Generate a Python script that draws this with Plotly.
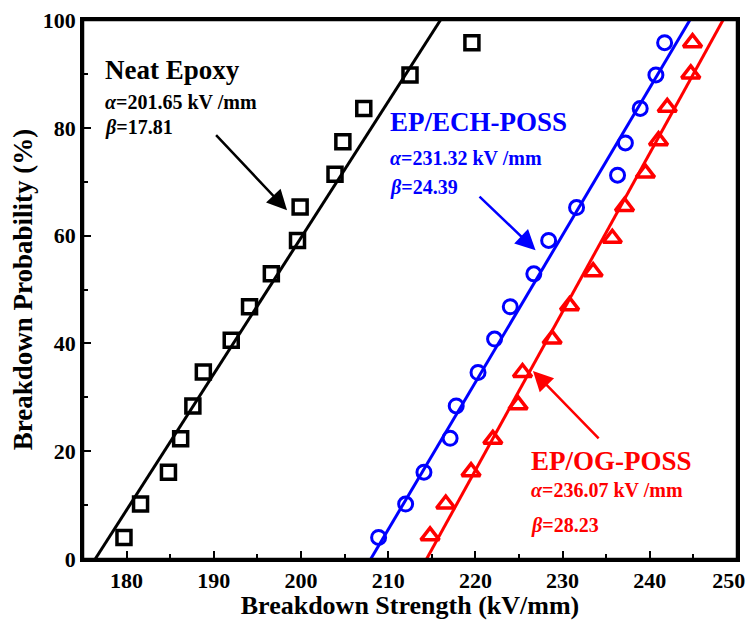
import plotly.graph_objects as go

# Data
neat_x = [179.7, 181.6, 184.8, 186.2, 187.6, 188.8, 192.0, 194.1, 196.6, 199.6, 199.9, 203.9, 204.8, 207.2, 212.5, 219.6]
neat_y = [4.0, 10.2, 16.1, 22.3, 28.4, 34.7, 40.6, 46.8, 52.9, 59.1, 65.3, 71.4, 77.4, 83.6, 89.8, 95.8]

ech_x = [208.9, 212.0, 214.1, 217.1, 217.8, 220.3, 222.2, 224.0, 226.7, 228.4, 231.6, 236.3, 237.2, 238.9, 240.7, 241.7]
ech_y = [4.0, 10.2, 16.1, 22.4, 28.4, 34.6, 40.8, 46.8, 52.9, 59.1, 65.2, 71.2, 77.2, 83.6, 89.8, 95.8]

og_x = [214.8, 216.6, 219.5, 222.0, 224.9, 225.4, 228.8, 230.8, 233.5, 235.7, 237.1, 239.5, 241.0, 242.0, 244.7, 244.9]
og_y = [4.3, 10.2, 16.2, 22.2, 28.6, 34.6, 40.8, 47.0, 53.3, 59.5, 65.4, 71.6, 77.6, 83.8, 90.0, 95.8]

# Fitted line end points
neat_fit_x = [176.4, 216.0]
ech_fit_x = [208.0, 244.6]
og_fit_x = [214.4, 248.4]
fit_y = [0, 100]

x_ticks = [180, 190, 200, 210, 220, 230, 240, 250]
y_ticks = [0, 20, 40, 60, 80, 100]

FONT = "Liberation Serif"
BLACK, BLUE, RED = "#000000", "#0000FF", "#FF0000"

fig = go.Figure()
for fx, col in [(neat_fit_x, BLACK), (ech_fit_x, BLUE), (og_fit_x, RED)]:
    fig.add_trace(go.Scatter(x=fx, y=fit_y, mode="lines",
                             line=dict(color=col, width=3), showlegend=False, hoverinfo="skip"))

fig.add_trace(go.Scatter(x=neat_x, y=neat_y, mode="markers", showlegend=False,
                         marker=dict(symbol="square-open", size=14, color=BLACK, line=dict(width=3.5, color=BLACK))))
fig.add_trace(go.Scatter(x=ech_x, y=ech_y, mode="markers", showlegend=False,
                         marker=dict(symbol="circle-open", size=14, color=BLUE, line=dict(width=3, color=BLUE))))
fig.add_trace(go.Scatter(x=og_x, y=og_y, mode="markers", showlegend=False,
                         marker=dict(symbol="triangle-up-open", size=16, color=RED, line=dict(width=3.5, color=RED))))

def txt(x, y, s, col, size):
    fig.add_annotation(x=x, y=y, xref="x", yref="y", text=s, showarrow=False,
                       xanchor="left", yanchor="middle",
                       font=dict(family=FONT, size=size, color=col))

txt(177.3, 90.7, "<b>Neat Epoxy</b>", BLACK, 27)
txt(177.3, 84.8, "<b><i>α</i>=201.65 kV /mm</b>", BLACK, 20)
txt(177.3, 80.0, "<b><i>β</i>=17.81</b>", BLACK, 20)

txt(210.0, 81.1, "<b>EP/ECH-POSS</b>", BLUE, 27)
txt(210.0, 74.4, "<b><i>α</i>=231.32 kV /mm</b>", BLUE, 20)
txt(210.0, 69.0, "<b><i>β</i>=24.39</b>", BLUE, 20)

txt(226.1, 18.2, "<b>EP/OG-POSS</b>", RED, 27)
txt(226.1, 12.8, "<b><i>α</i>=236.07 kV /mm</b>", RED, 20)
txt(226.1, 6.3, "<b><i>β</i>=28.23</b>", RED, 20)

def arrow(x0, y0, x1, y1, col):
    fig.add_annotation(x=x1, y=y1, ax=x0, ay=y0, xref="x", yref="y", axref="x", ayref="y",
                       text="", showarrow=True, arrowhead=2, arrowsize=1.6, arrowwidth=2.5,
                       arrowcolor=col)

arrow(190.1, 78.9, 198.4, 64.7, BLACK)
arrow(220.3, 67.5, 226.9, 57.3, BLUE)
arrow(234.3, 22.1, 226.6, 34.9, RED)

# frame around the plotting area
fig.add_shape(type="rect", xref="paper", yref="paper", x0=0, y0=0, x1=1, y1=1,
              line=dict(color="black", width=2.5), layer="above")

axis_common = dict(showgrid=False, zeroline=False, showline=True, linecolor="black", linewidth=2.5,
                   mirror=True, ticks="inside", ticklen=8, tickwidth=2, tickcolor="black",
                   automargin=False, ticklabeloverflow="allow",
                   tickfont=dict(family=FONT, size=22, color="black"))

x_labels = ["<b>%d</b>" % v for v in x_ticks]
x_labels[-1] = x_labels[-1] + "\u00a0\u00a0\u00a0"  # keep the last label inside the page

fig.update_xaxes(range=[175, 250], tickvals=x_ticks, ticktext=x_labels,
                 minor=dict(dtick=5, tick0=175, ticks="inside", ticklen=5, tickwidth=2, tickcolor="black"),
                 title=dict(text="<b>Breakdown Strength (kV/mm)</b>", font=dict(family=FONT, size=26, color="black"), standoff=7),
                 **axis_common)
fig.update_yaxes(range=[0, 100], tickvals=y_ticks, ticktext=["<b>%d</b>" % v for v in y_ticks],
                 minor=dict(dtick=10, tick0=0, ticks="inside", ticklen=5, tickwidth=2, tickcolor="black"),
                 title=dict(text="<b>Breakdown Probability (%)</b>", font=dict(family=FONT, size=27, color="black"), standoff=6),
                 **axis_common)
# the page body adds an 8px margin, so the figure is sized to fit the window without scrolling
fig.update_layout(width=740, height=612, margin=dict(l=75, r=11, t=12, b=61, autoexpand=False),
                  plot_bgcolor="white", paper_bgcolor="white",
                  font=dict(family=FONT, color="black"))

fig.write_html("out.html")
